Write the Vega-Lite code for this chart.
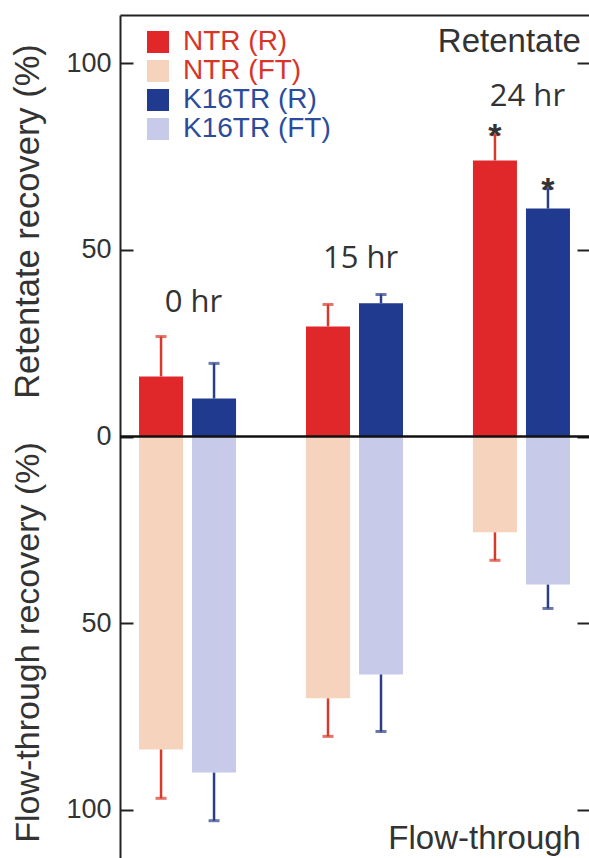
{
  "$schema": "https://vega.github.io/schema/vega-lite/v6.json",
  "width": 469,
  "height": 843,
  "autosize": {"type": "none"},
  "padding": {"left": 120, "top": 15, "right": 0, "bottom": 0},
  "background": "white",
  "config": {"view": {"stroke": null}, "font": "Liberation Sans"},
  "datasets": {
    "bars": [
      {"time": "0 hr", "sample": "NTR", "series": "NTR (R)", "value": 16.1, "err": 26.8, "sig": ""},
      {"time": "0 hr", "sample": "K16TR", "series": "K16TR (R)", "value": 10.2, "err": 19.6, "sig": ""},
      {"time": "15 hr", "sample": "NTR", "series": "NTR (R)", "value": 29.5, "err": 35.4, "sig": ""},
      {"time": "15 hr", "sample": "K16TR", "series": "K16TR (R)", "value": 35.7, "err": 38.1, "sig": ""},
      {"time": "24 hr", "sample": "NTR", "series": "NTR (R)", "value": 74.0, "err": 81.0, "sig": "*"},
      {"time": "24 hr", "sample": "K16TR", "series": "K16TR (R)", "value": 61.1, "err": 66.5, "sig": "*"},
      {"time": "0 hr", "sample": "NTR", "series": "NTR (FT)", "value": -83.9, "err": -97.0, "sig": ""},
      {"time": "0 hr", "sample": "K16TR", "series": "K16TR (FT)", "value": -90.1, "err": -103.0, "sig": ""},
      {"time": "15 hr", "sample": "NTR", "series": "NTR (FT)", "value": -70.2, "err": -80.4, "sig": ""},
      {"time": "15 hr", "sample": "K16TR", "series": "K16TR (FT)", "value": -63.8, "err": -79.1, "sig": ""},
      {"time": "24 hr", "sample": "NTR", "series": "NTR (FT)", "value": -25.7, "err": -33.2, "sig": ""},
      {"time": "24 hr", "sample": "K16TR", "series": "K16TR (FT)", "value": -39.7, "err": -46.1, "sig": ""}
    ],
    "hours": [
      {"time": "0 hr", "v": 33.5},
      {"time": "15 hr", "v": 45.3},
      {"time": "24 hr", "v": 88.5}
    ],
    "notes": [
      {"time": "24 hr", "note": "Retentate", "v": 103},
      {"time": "24 hr", "note": "Flow-through", "v": -110.7}
    ]
  },
  "layer": [
    {
      "layer": [
        {
          "data": {"name": "bars"},
          "mark": {"type": "bar"},
          "encoding": {
            "x": {
              "field": "time", "type": "nominal",
              "scale": {"domain": ["0 hr", "15 hr", "24 hr"], "paddingInner": 0.419, "paddingOuter": 0.114},
              "axis": {"orient": "top", "domain": true, "domainColor": "#222", "domainWidth": 2, "ticks": false, "labels": false, "title": null, "grid": false}
            },
            "xOffset": {"field": "sample", "type": "nominal", "scale": {"domain": ["NTR", "K16TR"], "paddingInner": 0.17, "paddingOuter": 0}},
            "y": {
              "field": "value", "type": "quantitative",
              "scale": {"domain": [-113, 113], "nice": false, "zero": false},
              "axis": {
                "values": [-100, -50, 0, 50, 100],
                "labelExpr": "abs(datum.value)",
                "title": "Retentate recovery (%)",
                "titleX": -82, "titleY": 206, "titleAngle": -90,
                "titleAlign": "center", "titleBaseline": "alphabetic",
                "titleFontSize": 34.5, "titleFontWeight": "normal", "titleColor": "#333", "titleFont": "Liberation Sans",
                "labelFontSize": 27, "labelColor": "#333", "labelFont": "Liberation Sans",
                "tickSize": -13, "tickWidth": 2, "tickColor": "#222",
                "domainColor": "#222", "domainWidth": 2,
                "labelPadding": 22, "grid": false
              }
            },
            "color": {
              "field": "series", "type": "nominal",
              "scale": {"domain": ["NTR (R)", "NTR (FT)", "K16TR (R)", "K16TR (FT)"], "range": ["#e0282b", "#f6d3bd", "#1f3a8f", "#c7cae8"]},
              "legend": {
                "orient": "none", "legendX": 24, "legendY": 13, "title": null,
                "symbolType": "square", "symbolSize": 484, "symbolStrokeWidth": 0, "symbolOpacity": 1,
                "labelFontSize": 28, "labelFont": "Liberation Sans", "labelOffset": 11,
                "rowPadding": 1, "padding": 0, "labelLimit": 300,
                "encode": {"labels": {"update": {"fill": {"signal": "indexof(datum.value, 'NTR') === 0 ? '#d8352a' : '#2b4c9b'"}}}}
              }
            }
          }
        },
        {
          "data": {"name": "bars"},
          "mark": {"type": "rule", "strokeWidth": 2.5},
          "encoding": {
            "x": {"field": "time", "type": "nominal"},
            "xOffset": {"field": "sample", "type": "nominal"},
            "y": {"field": "value", "type": "quantitative"},
            "y2": {"field": "err"},
            "stroke": {"field": "sample", "type": "nominal", "scale": {"domain": ["NTR", "K16TR"], "range": ["#d9392a", "#2b3f88"]}, "legend": null}
          }
        },
        {
          "data": {"name": "bars"},
          "mark": {"type": "tick", "size": 11, "thickness": 3, "orient": "horizontal"},
          "encoding": {
            "x": {"field": "time", "type": "nominal"},
            "xOffset": {"field": "sample", "type": "nominal"},
            "y": {"field": "err", "type": "quantitative"},
            "fill": {"field": "sample", "type": "nominal", "scale": {"domain": ["NTR", "K16TR"], "range": ["#d9392a", "#2b3f88"]}, "legend": null}
          }
        },
        {
          "data": {"name": "bars"},
          "transform": [{"filter": "datum.sig == '*'"}],
          "mark": {"type": "text", "fontSize": 34, "fontWeight": "bold", "baseline": "alphabetic", "dy": 13, "color": "#333", "font": "Liberation Sans"},
          "encoding": {
            "x": {"field": "time", "type": "nominal"},
            "xOffset": {"field": "sample", "type": "nominal"},
            "y": {"field": "err", "type": "quantitative"},
            "text": {"field": "sig"}
          }
        },
        {
          "data": {"name": "hours"},
          "mark": {"type": "text", "fontSize": 31, "font": "Open Sans", "baseline": "alphabetic", "align": "center", "dx": 6, "color": "#333"},
          "encoding": {
            "x": {"field": "time", "type": "nominal"},
            "y": {"field": "v", "type": "quantitative"},
            "text": {"field": "time"}
          }
        },
        {
          "data": {"name": "notes"},
          "mark": {"type": "text", "fontSize": 33, "font": "Liberation Sans", "baseline": "alphabetic", "align": "right", "dx": 11, "color": "#333"},
          "encoding": {
            "x": {"field": "time", "type": "nominal", "bandPosition": 1},
            "y": {"field": "v", "type": "quantitative"},
            "text": {"field": "note"}
          }
        },
        {
          "data": {"values": [{}]},
          "mark": {"type": "rule", "color": "#111", "strokeWidth": 2.5},
          "encoding": {"y": {"datum": 0}}
        }
      ]
    },
    {
      "data": {"values": [{}]},
      "mark": {"type": "rule", "opacity": 0},
      "encoding": {
        "y": {
          "datum": 0, "type": "quantitative",
          "scale": {"domain": [-113, 113], "nice": false, "zero": false},
          "axis": {
            "orient": "left", "labels": false, "ticks": false, "domain": false, "grid": false,
            "title": "Flow-through recovery (%)",
            "titleX": -82, "titleY": 627, "titleAngle": -90,
            "titleAlign": "center", "titleBaseline": "alphabetic",
            "titleFontSize": 34, "titleFontWeight": "normal", "titleColor": "#333", "titleFont": "Liberation Sans"
          }
        }
      }
    },
    {
      "data": {"values": [{}]},
      "mark": {"type": "rule", "opacity": 0},
      "encoding": {
        "y": {
          "datum": 0, "type": "quantitative",
          "scale": {"domain": [-113, 113], "nice": false, "zero": false},
          "axis": {
            "orient": "right", "values": [-100, -50, 0, 50, 100], "labels": false, "title": null, "grid": false,
            "tickSize": -12, "tickWidth": 2, "tickColor": "#222", "domain": false
          }
        }
      }
    }
  ],
  "resolve": {"scale": {"y": "independent"}}
}
